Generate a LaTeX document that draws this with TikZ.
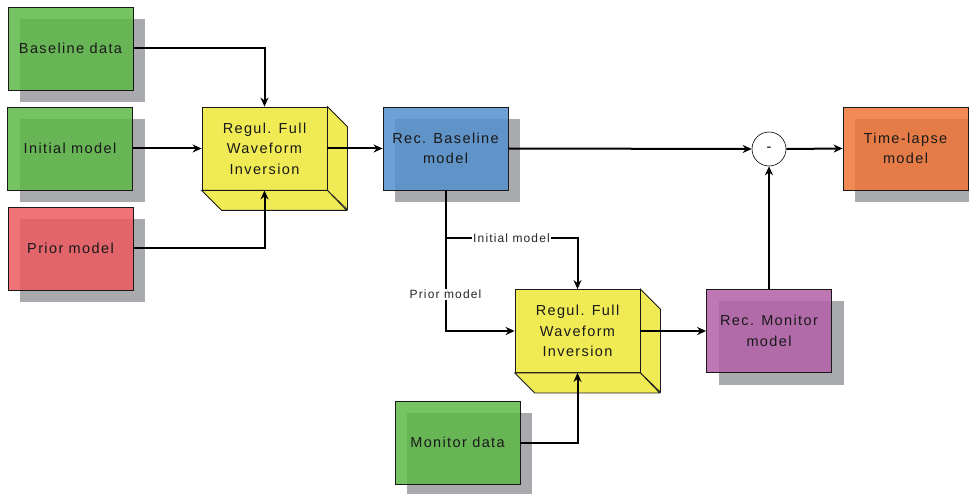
\documentclass[tikz,border=0pt]{standalone}
\usepackage{fontspec}
\setmainfont[LetterSpace=9.5]{Liberation Sans}
\usetikzlibrary{arrows.meta,shadows}
\definecolor{datagreen}{RGB}{93,184,71}
\definecolor{priorred}{RGB}{237,90,96}
\definecolor{basblue}{RGB}{84,143,204}
\definecolor{monpurple}{RGB}{178,96,167}
\definecolor{lapseorange}{RGB}{240,117,55}
\definecolor{fwiyellow}{RGB}{240,235,85}
\definecolor{shadowgray}{RGB}{168,170,174}
\newcommand{\boxfont}{\fontsize{14.5}{20.5}\selectfont}
\newcommand{\lblfont}{\fontsize{12}{14}\selectfont}

\begin{document}
\begin{tikzpicture}[x=1pt,y=1pt,
		box/.style={draw=black!90, line width=0.8pt, minimum width=125pt, minimum height=83pt, inner sep=0pt,
			fill opacity=0.85, text opacity=1, align=center, text=black!90, font=\boxfont,
			drop shadow={shadow xshift=12pt, shadow yshift=-12pt, fill=shadowgray, opacity=1, draw=none}},
		fwi/.style={draw=black!90, line width=0.8pt, fill=fwiyellow, minimum width=125pt, minimum height=83pt,
			inner sep=0pt, align=center, text=black!90, font=\boxfont},
		face/.style={draw=black!90, line width=0.8pt, fill=fwiyellow},
		flow/.style={line width=2pt, -{Stealth[length=9pt,width=8pt]}},
		lbl/.style={fill=white, inner sep=1.5pt, text=black!85, font=\lblfont}]
			\useasboundingbox (0,0) rectangle (969,-494);
			\node [box, fill=datagreen] (bdata) at (70.5,-48.5) {Baseline data};
			\node [box, fill=datagreen] (init) at (70,-148.5) {Initial model};
			\node [box, fill=priorred] (prior) at (70.5,-248.5) {Prior model};
			\node [box, fill=basblue] (rbase) at (445.5,-148.5) {Rec. Baseline\\model};
			\node [box, fill=lapseorange] (tlapse) at (905.5,-148.5) {Time-lapse\\model};
			\node [box, fill=monpurple] (rmon) at (769,-331) {Rec. Monitor\\model};
			\node [box, fill=datagreen] (mdata) at (457.5,-442.5) {Monitor data};
			\node [fwi] (fwia) at (264.5,-148.5) {Regul. Full\\Waveform\\Inversion};
			\draw [face] (fwia.north east) -- ++(20,-20) -- ++(0,-83) -- (fwia.south east) -- cycle;
			\draw [face] (fwia.south west) -- ++(20,-20) -- ++(125,0) -- (fwia.south east) -- cycle;
			\node [fwi] (fwib) at (577.5,-331) {Regul. Full\\Waveform\\Inversion};
			\draw [face] (fwib.north east) -- ++(20,-20) -- ++(0,-83) -- (fwib.south east) -- cycle;
			\draw [face] (fwib.south west) -- ++(20,-20) -- ++(125,0) -- (fwib.south east) -- cycle;
			\node [circle, draw, line width=0.6pt, fill=white, minimum size=34pt, inner sep=0pt, font=\boxfont] (minus) at (769,-149) {-};
			\coordinate (split) at (445.5,-238);
			\draw [flow] (bdata.east) -| (fwia.north);
			\draw [flow] (init.east) -- (fwia.west);
			\draw [flow] (prior.east) -| (fwia.south);
			\draw [flow] (fwia.east) -- (rbase.west);
			\draw [flow] (rbase.east) -- (minus.west);
			\draw [flow] (minus.east) -- (tlapse.west);
			\draw [flow] (rbase.south) |- node [lbl, pos=0.37] {Prior model} (fwib.west);
			\draw [flow] (split) -| node [lbl, pos=0.25] {Initial model} (fwib.north);
			\draw [flow] (fwib.east) -- (rmon.west);
			\draw [flow] (mdata.east) -| (fwib.south);
			\draw [flow] (rmon.north) -- (minus.south);
\end{tikzpicture}
\end{document}
